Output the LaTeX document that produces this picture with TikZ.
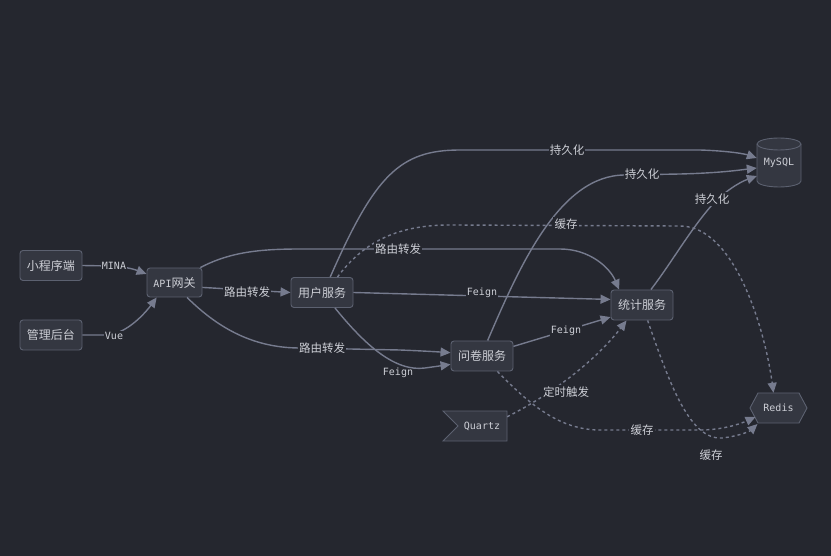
\documentclass[tikz,border=0pt]{standalone}
\usepackage{fontspec}
\setmainfont{DejaVu Sans Mono}
\newfontfamily\cjk{Noto Sans CJK SC}
\newfontfamily\lat{DejaVu Sans Mono}
\usetikzlibrary{arrows.meta}
\definecolor{bg}{RGB}{37,39,47}
\definecolor{nfill}{RGB}{52,55,65}
\definecolor{nline}{RGB}{92,97,112}
\definecolor{eline}{RGB}{118,123,142}
\definecolor{txt}{RGB}{205,207,214}
\begin{document}
\begin{tikzpicture}[x=1pt,y=-1pt,
  box/.style={draw=nline, fill=nfill, line width=0.9pt, rounded corners=3pt, minimum width=62pt, minimum height=30pt, inner sep=0pt, text=txt, font=\cjk\fontsize{12}{14}\selectfont},
  shapebg/.style={draw=nline, fill=nfill, line width=0.9pt},
  holder/.style={inner sep=0pt, text=txt, font=\lat\fontsize{10}{12}\selectfont},
  edge/.style={draw=eline, line width=1.4pt, -{Triangle[length=10pt,width=9pt]}},
  dotted edge/.style={edge, dash pattern=on 3pt off 3pt},
  lbl/.style={fill=bg, inner sep=1.2pt, text=txt, font=\cjk\fontsize{11.5}{13}\selectfont},
  llbl/.style={fill=bg, inner sep=1.2pt, text=txt, font=\lat\fontsize{10}{12}\selectfont},
]
\fill[bg] (0,0) rectangle (831,556);
\useasboundingbox (0,0) rectangle (831,556);

% special shapes
\draw[shapebg] (757,144) -- (757,181) arc[start angle=180, end angle=0, x radius=22, y radius=6] -- (801,144) arc[start angle=0, end angle=-180, x radius=22, y radius=6] -- cycle;
\draw[shapebg, fill=none] (757,144) arc[start angle=180, end angle=0, x radius=22, y radius=6];
\draw[shapebg] (750,408) -- (758,393) -- (799,393) -- (807,408) -- (799,423) -- (758,423) -- cycle;
\draw[shapebg] (443,411) -- (507,411) -- (507,441) -- (443,441) -- (458,426) -- cycle;

% nodes
\node[box] (xcx) at (51,265.5) {小程序端};
\node[box] (gl) at (51,335) {管理后台};
\node[box, minimum width=55pt, minimum height=29pt] (api) at (174.5,282.5) {{\lat\fontsize{10}{12}\selectfont API}网关};
\node[box] (user) at (322,292.5) {用户服务};
\node[box] (survey) at (482,356) {问卷服务};
\node[box] (stat) at (642,305) {统计服务};
\node[holder, minimum width=44pt, minimum height=48pt] (mysql) at (779,163) {MySQL};
\node[holder, minimum width=57pt, minimum height=30pt] (redis) at (778.5,408) {Redis};
\node[holder, minimum width=64pt, minimum height=30pt] (quartz) at (475,426) {\hspace*{14pt}Quartz};

% edges
\draw[edge] (xcx.east) -- (112,266) .. controls (128,267) and (136,270) .. (api.163);
\draw[edge] (gl.east) -- (108,335) .. controls (128,333) and (146,312) .. (api.220);
\draw[edge] (api.-10) -- (user.west);
\draw[edge] (api.30) .. controls (230,252) and (260,249) .. (300,249) -- (560,249) .. controls (590,249) and (610,268) .. (stat.146);
\draw[edge] (api.-50) .. controls (215,325) and (250,348) .. (300,348) -- (400,350) .. controls (425,351) and (440,352) .. (survey.174);
\draw[edge] (user.62) .. controls (375,175) and (400,150) .. (460,150) -- (700,150) .. controls (730,151) and (745,154) .. ([yshift=5pt]mysql.west);
\draw[dotted edge] (user.45) .. controls (365,240) and (400,225) .. (450,225) -- (680,226) .. controls (735,226) and (765,330) .. ([xshift=-5pt]redis.north);
\draw[edge] (user.east) -- (stat.170);
\draw[edge] (user.-50) .. controls (365,345) and (395,372) .. (425,368) -- (survey.-165);
\draw[edge] (survey.70) .. controls (520,265) and (560,175) .. (625,175) -- (680,174) .. controls (720,173) and (740,170) .. ([yshift=-5pt]mysql.west);
\draw[edge] (survey.17) -- (stat.201);
\draw[dotted edge] (survey.-45) .. controls (530,405) and (560,430) .. (600,430) -- (700,430) .. controls (722,430) and (740,424) .. ([shift={(-23,9)}]redis.center);
\draw[dotted edge] (quartz.16) .. controls (560,390) and (600,355) .. (stat.225);
\draw[edge] (stat.60) .. controls (672,262) and (690,230) .. (712,205) .. controls (725,191) and (740,182) .. ([yshift=-13pt]mysql.west);
\draw[dotted edge] (stat.-70) .. controls (670,385) and (690,440) .. (722,438) .. controls (740,436) and (750,431) .. ([shift={(-21,16)}]redis.center);

% labels
\node[llbl] (l1) at (114,266) {MINA};
\node[llbl] (l2) at (114,336) {Vue};
\node[lbl] (l3) at (247,292) {路由转发};
\node[lbl] (l4) at (398,249) {路由转发};
\node[lbl] (l5) at (322,348) {路由转发};
\node[lbl] (l6) at (567,150) {持久化};
\node[lbl] (l7) at (642,174) {持久化};
\node[lbl] (l8) at (712,199) {持久化};
\node[lbl] (l9) at (566,224) {缓存};
\node[llbl] (l10) at (482,293) {Feign};
\node[llbl, fill=none] (l11) at (398,373) {Feign};
\node[llbl] (l12) at (566,331) {Feign};
\node[lbl] (l13) at (566,392) {定时触发};
\node[lbl] (l14) at (642,430) {缓存};
\node[lbl, fill=none] (l15) at (711,455) {缓存};
\end{tikzpicture}
\end{document}
